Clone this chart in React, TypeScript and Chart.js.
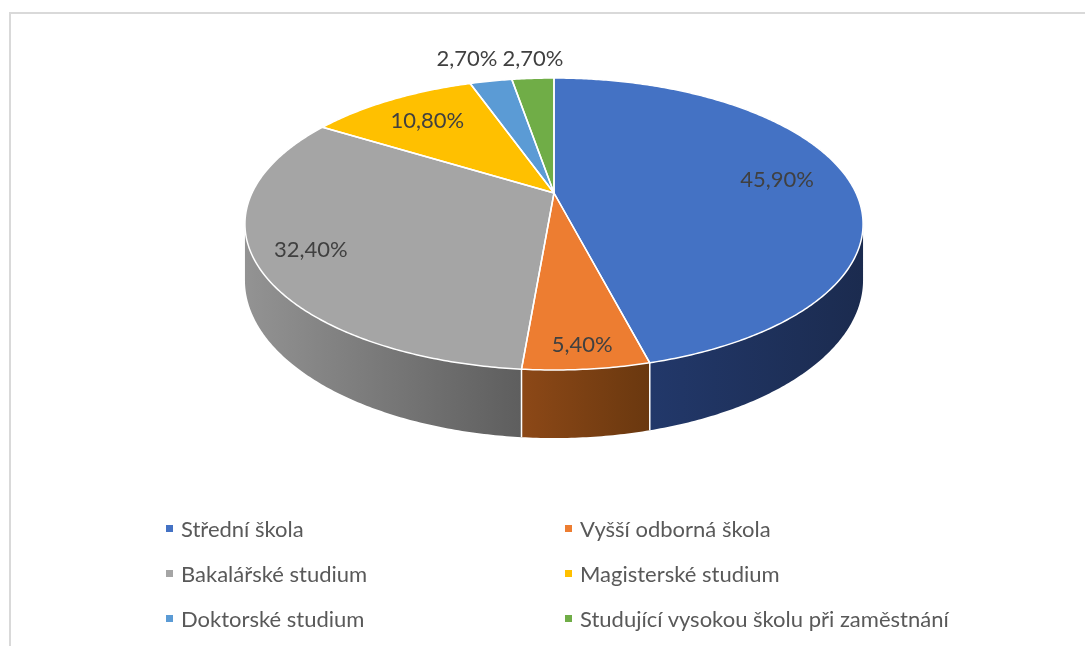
import React, { useEffect, useRef } from "react";
import { Chart, registerables } from "chart.js";

Chart.register(...registerables);

// ---- data ----
const categories = [
  "Střední škola",
  "Vyšší odborná škola",
  "Bakalářské studium",
  "Magisterské studium",
  "Doktorské studium",
  "Studující vysokou školu při zaměstnání",
];
const shares = [45.9, 5.4, 32.4, 10.8, 2.7, 2.7];
const shareLabels = ["45,90%", "5,40%", "32,40%", "10,80%", "2,70%", "2,70%"];

// ---- styles ----
const topColors = ["#4472C4", "#ED7D31", "#A5A5A5", "#FFC000", "#5B9BD5", "#70AD47"];
const wallLight = ["#22386A", "#8C4817", "#939393", "#BF9000", "#41719C", "#507E32"];
const wallDark = ["#1B2B4F", "#6A380F", "#5E5E5E", "#8F6C00", "#2E5273", "#3B5E25"];
const labelRadius = [0.76, 0.89, 0.83, 0.75, 1, 1];
const outsideLabel = [false, false, false, false, true, true];

const TILT_K = 0.2123; // perspective strength
const Y_SCALE = 0.4616; // vertical squash of the top face
const DEPTH = 0.1775; // wall height relative to radius
const CENTER_Y = 193;
const LABEL_FONT = "22px Lato";
const LABEL_COLOR = "#404040";

function makeProjector(cx: number, cy: number, R: number) {
  return (th: number, r: number) => {
    const u = r * Math.cos(th);
    const v = r * Math.sin(th);
    const d = 1 - TILT_K * v;
    return { x: cx + (R * u) / d, y: cy + (R * Y_SCALE * v) / d, d };
  };
}

function drawLabels(chart: any) {
  const ctx: CanvasRenderingContext2D = chart.ctx;
  const arcs = chart.getDatasetMeta(0).data as any[];
  if (!arcs.length) return;
  const P = makeProjector(arcs[0].x, CENTER_Y, arcs[0].outerRadius);
  ctx.save();
  ctx.font = LABEL_FONT;
  ctx.fillStyle = LABEL_COLOR;
  ctx.textAlign = "center";
  ctx.textBaseline = "middle";
  const outs: { x: number; y: number; w: number; t: string }[] = [];
  arcs.forEach((arc: any, i: number) => {
    const mid = (arc.startAngle + arc.endAngle) / 2;
    if (outsideLabel[i]) {
      const e = P(mid, 1);
      outs.push({ x: e.x, y: e.y, w: ctx.measureText(shareLabels[i]).width, t: shareLabels[i] });
    } else {
      const p = P(mid, labelRadius[i]);
      ctx.fillText(shareLabels[i], p.x, p.y);
    }
  });
  if (outs.length) {
    const y = Math.min(...outs.map((o) => o.y)) - 19;
    outs.sort((a, b) => b.x - a.x);
    for (let j = 1; j < outs.length; j++) {
      const prev = outs[j - 1];
      const lim = prev.x - (prev.w / 2 + outs[j].w / 2 + 5);
      if (outs[j].x > lim) outs[j].x = lim;
    }
    outs.forEach((o) => ctx.fillText(o.t, o.x, y));
  }
  ctx.restore();
}

const pie3d = {
  id: "pie3d",
  beforeDatasetsDraw(chart: any) {
    const ctx: CanvasRenderingContext2D = chart.ctx;
    const arcs = chart.getDatasetMeta(0).data as any[];
    if (!arcs.length) return false;
    const cx = arcs[0].x;
    const R = arcs[0].outerRadius;
    const P = makeProjector(cx, CENTER_Y, R);
    const sampled = (a0: number, a1: number) => {
      const n = Math.max(2, Math.ceil((a1 - a0) / 0.01));
      const pts: { x: number; y: number; d: number }[] = [];
      for (let j = 0; j <= n; j++) pts.push(P(a0 + ((a1 - a0) * j) / n, 1));
      return pts;
    };
    const fa0 = Math.asin(TILT_K);
    const fa1 = Math.PI - fa0;
    ctx.save();
    // walls
    arcs.forEach((arc: any, i: number) => {
      const a0 = Math.max(arc.startAngle, fa0);
      const a1 = Math.min(arc.endAngle, fa1);
      if (a1 <= a0) return;
      const top = sampled(a0, a1);
      const bot = top.map((p) => ({ x: p.x, y: p.y + (R * DEPTH) / p.d }));
      ctx.beginPath();
      top.forEach((p, j) => (j ? ctx.lineTo(p.x, p.y) : ctx.moveTo(p.x, p.y)));
      for (let j = bot.length - 1; j >= 0; j--) ctx.lineTo(bot[j].x, bot[j].y);
      ctx.closePath();
      const xs = top.map((p) => p.x);
      const g = ctx.createLinearGradient(Math.min(...xs), 0, Math.max(...xs), 0);
      g.addColorStop(0, wallLight[i]);
      g.addColorStop(1, wallDark[i]);
      ctx.fillStyle = g;
      ctx.fill();
    });
    // wall separators
    ctx.strokeStyle = "#FFFFFF";
    ctx.lineWidth = 1.5;
    arcs.forEach((arc: any) => {
      const a = arc.startAngle;
      if (a > fa0 && a < fa1) {
        const p = P(a, 1);
        ctx.beginPath();
        ctx.moveTo(p.x, p.y);
        ctx.lineTo(p.x, p.y + (R * DEPTH) / p.d);
        ctx.stroke();
      }
    });
    // top faces
    const c = P(0, 0);
    arcs.forEach((arc: any, i: number) => {
      const pts = sampled(arc.startAngle, arc.endAngle);
      ctx.beginPath();
      ctx.moveTo(c.x, c.y);
      pts.forEach((p) => ctx.lineTo(p.x, p.y));
      ctx.closePath();
      ctx.fillStyle = topColors[i];
      ctx.fill();
    });
    ctx.lineJoin = "round";
    arcs.forEach((arc: any) => {
      const pts = sampled(arc.startAngle, arc.endAngle);
      ctx.beginPath();
      ctx.moveTo(c.x, c.y);
      pts.forEach((p) => ctx.lineTo(p.x, p.y));
      ctx.closePath();
      ctx.stroke();
    });
    ctx.restore();
    return false;
  },
  afterDraw(chart: any) {
    drawLabels(chart);
  },
};

const legendCols = [166, 565];
const legendRows = [528, 573, 618];

export default function App() {
  const canvasRef = useRef<HTMLCanvasElement | null>(null);
  useEffect(() => {
    if (!canvasRef.current) return;
    const chart = new Chart(canvasRef.current, {
      type: "pie",
      data: {
        labels: categories,
        datasets: [
          {
            data: shares,
            backgroundColor: topColors,
            borderWidth: 0,
          },
        ],
      },
      options: {
        responsive: false,
        animation: false,
        layout: { padding: { left: 252, right: 229, top: 0, bottom: 0 } },
        plugins: { legend: { display: false }, tooltip: { enabled: false } },
      },
      plugins: [pie3d as any],
    });
    return () => chart.destroy();
  }, []);

  return (
    <div
      style={{
        position: "fixed",
        left: 0,
        top: 0,
        width: 1085,
        height: 646,
        background: "#FFFFFF",
        overflow: "hidden",
        fontFamily: "Lato, sans-serif",
      }}
    >
      <div
        style={{
          position: "absolute",
          left: 9,
          top: 12,
          right: -10,
          bottom: -10,
          borderTop: "2px solid #D9D9D9",
          borderLeft: "2px solid #D9D9D9",
        }}
      />
      <canvas
        ref={canvasRef}
        width={1085}
        height={646}
        style={{ position: "absolute", left: 0, top: 0, display: "block" }}
      />
      {categories.map((name, i) => {
        const x = legendCols[i % 2];
        const y = legendRows[Math.floor(i / 2)];
        return (
          <div
            key={name}
            style={{
              position: "absolute",
              left: x,
              top: y - 15,
              height: 30,
              display: "flex",
              alignItems: "center",
              whiteSpace: "nowrap",
              fontSize: 22,
              color: "#595959",
            }}
          >
            <span
              style={{
                display: "inline-block",
                width: 7,
                height: 7,
                background: topColors[i],
                marginRight: 8,
              }}
            />
            <span>{name}</span>
          </div>
        );
      })}
    </div>
  );
}
